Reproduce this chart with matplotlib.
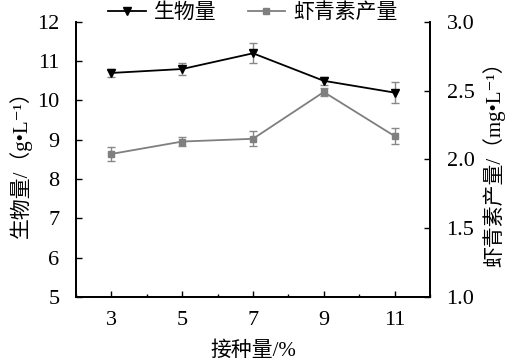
import matplotlib
matplotlib.use("Agg")
import matplotlib.pyplot as plt
from matplotlib.ticker import MultipleLocator, FormatStrFormatter

plt.rcParams['font.family'] = ['Liberation Serif', 'Noto Sans CJK SC', 'DejaVu Sans']

inoculum = [3, 5, 7, 9, 11]
biomass = [10.7, 10.8, 11.2, 10.5, 10.2]
biomass_err = [0.1, 0.15, 0.25, 0.1, 0.27]
astax = [2.04, 2.13, 2.15, 2.49, 2.17]
astax_err = [0.05, 0.03, 0.055, 0.03, 0.057]

fig = plt.figure(figsize=(5.07, 3.64), dpi=100)
ax = fig.add_axes([0.150, 0.184, 0.698, 0.756])
ax2 = ax.twinx()

l1 = ax.errorbar(inoculum, biomass, yerr=biomass_err, color='black', marker='v',
                 markersize=6, lw=1.3, ecolor='#888888', elinewidth=1, capsize=3,
                 capthick=1)
l2 = ax2.errorbar(inoculum, astax, yerr=astax_err, color='#7f7f7f', marker='s',
                  markersize=5, lw=1.3, ecolor='#888888', elinewidth=1, capsize=3,
                  capthick=1)

ax.set_xlim(2, 12)
ax.set_ylim(5, 12)
ax2.set_ylim(1.0, 3.0)
ax.set_xticks(inoculum)
ax.xaxis.set_minor_locator(MultipleLocator(1))
ax.yaxis.set_major_locator(MultipleLocator(1))
ax2.yaxis.set_major_locator(MultipleLocator(0.5))
ax2.yaxis.set_major_formatter(FormatStrFormatter('%.1f'))

for a in (ax, ax2):
    a.spines['top'].set_visible(False)
    for s in a.spines.values():
        s.set_linewidth(1.3)
    a.tick_params(direction='in', length=4, width=1, labelsize=16, pad=12)
    a.tick_params(which='minor', direction='in', length=2.5, width=1)
ax.tick_params(axis='x', pad=10)

ax.set_xlabel('接种量/%', fontsize=15, labelpad=8)
ax.set_ylabel('生物量/（g•L⁻¹）', fontsize=15, labelpad=4)
ax2.set_ylabel('虾青素产量/（mg•L⁻¹）', fontsize=15, rotation=90, labelpad=6)

ax.legend([l1[0], l2[0]], ['生物量', '虾青素产量'], loc='lower center',
          bbox_to_anchor=(0.5, 0.965), ncol=2, frameon=False, fontsize=15,
          handlelength=1.8, handletextpad=0.4, columnspacing=1.5, borderaxespad=0)

plt.savefig('out.png', dpi=100)
plt.close()
